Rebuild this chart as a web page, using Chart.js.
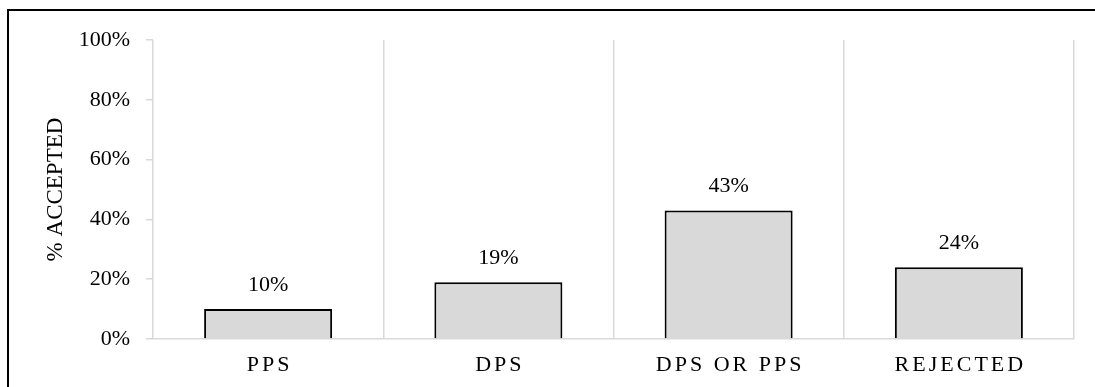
<!DOCTYPE html>
<html>
<head>
<meta charset="utf-8">
<script src="https://cdn.jsdelivr.net/npm/chart.js@4"></script>
<style>
  html, body { margin: 0; padding: 0; background: #fff; overflow: hidden; }
  #wrap { position: relative; width: 1095px; height: 387px; }
  #c { position: absolute; left: 0; top: 0; }
  #frame {
    position: absolute; left: 7px; top: 9px; width: 1200px; height: 500px;
    border: 2px solid #000; pointer-events: none;
  }
</style>
</head>
<body>
<div id="wrap">
  <canvas id="c" width="1095" height="387"></canvas>
  <div id="frame"></div>
</div>
<script>
// Share of responses accepted per scheme
const categories = ['PPS', 'DPS', 'DPS OR PPS', 'REJECTED'];
const acceptedPct = [10, 19, 43, 24];
const yTicks = [0, 20, 40, 60, 80, 100];
const yTitle = '% ACCEPTED';

const SERIF = '"Liberation Serif", "Times New Roman", serif';
const GRID = '#d9d9d9';

// Value labels above each bar
const valueLabels = {
  id: 'valueLabels',
  afterDatasetsDraw(chart) {
    const ctx = chart.ctx;
    const meta = chart.getDatasetMeta(0);
    ctx.save();
    ctx.font = '22px ' + SERIF;
    ctx.fillStyle = '#000';
    ctx.textAlign = 'center';
    ctx.textBaseline = 'alphabetic';
    meta.data.forEach((bar, i) => {
      ctx.fillText(acceptedPct[i] + '%', bar.x, bar.y - 18);
    });
    ctx.restore();
  }
};

// Letter-spaced category labels under the axis
const spacedCategoryLabels = {
  id: 'spacedCategoryLabels',
  afterDraw(chart) {
    const ctx = chart.ctx;
    const xs = chart.scales.x;
    const spacing = 3;
    ctx.save();
    ctx.font = '22px ' + SERIF;
    ctx.fillStyle = '#000';
    ctx.letterSpacing = spacing + 'px';
    ctx.textAlign = 'left';
    ctx.textBaseline = 'alphabetic';
    categories.forEach((label, i) => {
      const cx = xs.getPixelForValue(i);
      const w = ctx.measureText(label).width - spacing;
      ctx.fillText(label, cx - w / 2, xs.top + 32);
    });
    ctx.restore();
  }
};

new Chart(document.getElementById('c'), {
  type: 'bar',
  data: {
    labels: categories,
    datasets: [{
      data: acceptedPct,
      backgroundColor: '#d9d9d9',
      borderColor: '#000',
      borderWidth: 2,
      borderSkipped: 'bottom',
      categoryPercentage: 1.0,
      barPercentage: 0.556
    }]
  },
  options: {
    responsive: false,
    animation: false,
    devicePixelRatio: 1,
    layout: { padding: { left: 38, right: 21, top: 40, bottom: 0 } },
    plugins: {
      legend: { display: false },
      tooltip: { enabled: false }
    },
    scales: {
      x: {
        z: 1,
        offset: true,
        grid: {
          display: true,
          offset: true,
          drawOnChartArea: true,
          drawTicks: false,
          color: GRID,
          lineWidth: 1.5
        },
        border: { display: true, color: GRID, width: 1.5 },
        ticks: { display: false },
        afterFit(scale) { scale.height = 48; }
      },
      y: {
        min: 0,
        max: 100,
        afterBuildTicks(scale) {
          scale.ticks = yTicks.map(v => ({ value: v }));
        },
        ticks: {
          callback: v => v + '%',
          font: { family: SERIF, size: 22 },
          color: '#000',
          padding: 16
        },
        grid: {
          display: true,
          drawOnChartArea: false,
          drawTicks: true,
          tickLength: 7,
          color: GRID,
          lineWidth: 1.5
        },
        border: { display: false },
        title: {
          display: true,
          text: yTitle,
          font: { family: SERIF, size: 23 },
          color: '#000',
          padding: { top: 4, bottom: 0 }
        },
        afterFit(scale) { scale.width = 115; }
      }
    }
  },
  plugins: [valueLabels, spacedCategoryLabels]
});
</script>
</body>
</html>
